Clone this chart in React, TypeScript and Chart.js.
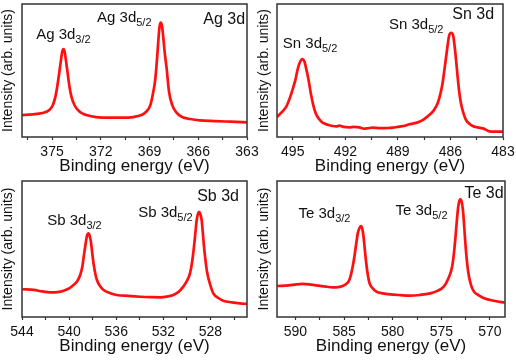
import React, { useEffect, useRef } from "react";
import { Chart, registerables } from "chart.js";
Chart.register(...registerables);

const FONT = '"Liberation Sans", Arial, Helvetica, sans-serif';

// ---------- Ag 3d ----------
const agEnergy = [376.85, 376.2, 375.6, 375.15, 374.95, 374.8, 374.68, 374.55, 374.45, 374.37, 374.3, 374.23, 374.15, 374.05, 373.93, 373.8, 373.6, 373.3, 372.9, 372.3, 371.5, 370.7, 370.0, 369.5, 369.2, 368.95, 368.8, 368.65, 368.53, 368.43, 368.37, 368.31, 368.24, 368.17, 368.07, 367.95, 367.8, 367.6, 367.35, 367.0, 366.5, 365.9, 365.0, 364.0, 363.0];
const agIntensity = [16.5, 17, 18, 20.5, 24, 30, 38, 49, 58, 64.5, 66, 64.5, 58, 49, 38, 30, 23.5, 19, 16.5, 15, 14.5, 14.5, 15, 16.5, 19, 24, 32, 43, 60, 77, 84, 86, 84, 77, 64, 52, 34, 24, 18.5, 15, 13.5, 12.5, 12, 11.5, 11];
const agTicks = [376.5, 375, 373.5, 372, 370.5, 369, 367.5, 366, 364.5, 363];
const agTickLabels = [375, 372, 369, 366, 363];

// ---------- Sn 3d ----------
const snEnergy = [495.9, 495.6, 495.37, 495.15, 495.02, 494.85, 494.73, 494.6, 494.45, 494.33, 494.26, 494.1, 493.97, 493.83, 493.69, 493.5, 493.3, 493.0, 492.73, 492.5, 492.35, 492.1, 491.78, 491.5, 491.2, 490.93, 490.7, 490.45, 490.1, 489.87, 489.5, 489.3, 488.93, 488.6, 488.35, 488.1, 487.78, 487.5, 487.21, 486.95, 486.73, 486.58, 486.45, 486.33, 486.22, 486.07, 485.95, 485.85, 485.78, 485.68, 485.59, 485.5, 485.4, 485.25, 485.11, 484.9, 484.73, 484.45, 484.16, 483.9, 483.78, 483.4, 483.0];
const snIntensity = [15, 19, 22.8, 30, 35.3, 43, 50.4, 56, 58.6, 56.5, 52.9, 43, 32.8, 24, 17.8, 13.5, 10.8, 9.2, 8.3, 8.0, 8.6, 7.6, 7.3, 7.6, 7.2, 6.2, 6.6, 7.0, 6.7, 6.6, 6.8, 7.0, 7.8, 8.5, 9.6, 10.2, 11.5, 13.5, 16.5, 20, 25.3, 32, 40.4, 52, 63, 76.5, 78.4, 76.5, 70.4, 58, 45.3, 34, 25.3, 17.5, 12.8, 9.8, 8.3, 7.2, 6.5, 5.0, 4.2, 4.0, 4.0];
const snTicks = [495, 493.5, 492, 490.5, 489, 487.5, 486, 484.5, 483];
const snTickLabels = [495, 492, 489, 486, 483];

// ---------- Sb 3d ----------
const sbEnergy = [543.97, 543.0, 542.3, 541.6, 541.0, 540.47, 540.0, 539.63, 539.3, 539.06, 538.88, 538.72, 538.58, 538.49, 538.36, 538.25, 538.15, 538.05, 537.93, 537.78, 537.64, 537.35, 537.08, 536.5, 535.95, 535.0, 533.97, 533.0, 532.28, 531.6, 531.15, 530.7, 530.31, 530.0, 529.74, 529.55, 529.4, 529.28, 529.17, 529.05, 528.97, 528.88, 528.75, 528.65, 528.55, 528.4, 528.27, 528.0, 527.76, 527.3, 526.92, 526.2, 525.5, 524.91];
const sbIntensity = [20.4, 19.9, 18.8, 18.1, 18.3, 19.3, 21, 23.5, 26.5, 30.9, 37, 46.8, 55, 59.5, 61.5, 59.5, 55.4, 48, 39.5, 32, 27.2, 22.5, 19.9, 17.5, 16.2, 15.5, 14.9, 14.6, 14.5, 15.2, 16.2, 18.5, 22.3, 26.5, 32.1, 41, 51.7, 62, 71.3, 76.2, 77.4, 76.2, 71.3, 62, 51.7, 40, 32.1, 23, 17.4, 13.8, 12.0, 10.8, 10.0, 9.6];
const sbTicks = [544, 542, 540, 538, 536, 534, 532, 530, 528, 526];
const sbTickLabels = [544, 540, 536, 532, 528];

// ---------- Te 3d ----------
const teEnergy = [591.87, 590.7, 589.9, 589.3, 588.6, 587.92, 587.0, 586.19, 585.6, 585.15, 584.75, 584.46, 584.2, 583.94, 583.75, 583.59, 583.42, 583.27, 583.13, 583.0, 582.86, 582.72, 582.55, 582.38, 582.05, 581.68, 581.0, 580.3, 579.2, 578.22, 577.2, 576.14, 575.4, 574.75, 574.3, 573.89, 573.7, 573.54, 573.4, 573.26, 573.14, 573.02, 572.9, 572.78, 572.64, 572.5, 572.32, 572.15, 571.9, 571.63, 571.1, 570.59, 569.5, 568.48];
const teIntensity = [22.8, 23.3, 24, 24.3, 24, 23.3, 22.5, 21.8, 22.0, 22.8, 24.5, 27.2, 34, 44.3, 54, 61.5, 65.5, 66.9, 65, 59.0, 49, 39.5, 30.5, 24.8, 21, 18.6, 17.4, 16.7, 16.1, 15.7, 16.2, 17.4, 19.2, 22.3, 28, 37.0, 47, 59.0, 71, 81.1, 85.5, 86.5, 84.5, 78.7, 66, 51.7, 38, 29.6, 22.5, 18.6, 15.8, 13.8, 11.8, 10.5];
const teTicks = [590, 587.5, 585, 582.5, 580, 577.5, 575, 572.5, 570];
const teTickLabels = [590, 585, 580, 575, 570];

// ---------- Text labels (anchor in data units) ----------
type Label = { text: string; sub?: string; x: number; y: number; size: number; align?: "left" | "right" };

const agLabels: Label[] = [
  { text: "Ag 3d", sub: "3/2", x: 375.98, y: 73.7, size: 15 },
  { text: "Ag 3d", sub: "5/2", x: 372.23, y: 86.5, size: 15 },
  { text: "Ag 3d", x: 363.12, y: 85.0, size: 16, align: "right" },
];
const snLabels: Label[] = [
  { text: "Sn 3d", sub: "5/2", x: 495.57, y: 66.9, size: 15 },
  { text: "Sn 3d", sub: "5/2", x: 489.51, y: 81.2, size: 15 },
  { text: "Sn 3d", x: 483.51, y: 88.7, size: 16, align: "right" },
];
const sbLabels: Label[] = [
  { text: "Sb 3d", sub: "3/2", x: 541.86, y: 67.6, size: 15 },
  { text: "Sb 3d", sub: "5/2", x: 534.14, y: 73.5, size: 15 },
  { text: "Sb 3d", x: 525.58, y: 85.3, size: 16, align: "right" },
];
const teLabels: Label[] = [
  { text: "Te 3d", sub: "3/2", x: 589.69, y: 72.8, size: 15 },
  { text: "Te 3d", sub: "5/2", x: 579.71, y: 75.0, size: 15 },
  { text: "Te 3d", x: 568.59, y: 87.5, size: 16, align: "right" },
];

const xTitle = "Binding energy (eV)";
const yTitle = "Intensity (arb. units)";

type PanelCfg = {
  energy: number[];
  intensity: number[];
  ticks: number[];
  tickLabels: number[];
  labels: Label[];
  xMin: number;
  xMax: number;
  layout: { left: number; top: number; width: number; height: number; padTop: number; padRight: number; yWidth: number; xHeight: number; titlePad: number };
};

const panels: PanelCfg[] = [
  { energy: agEnergy, intensity: agIntensity, ticks: agTicks, tickLabels: agTickLabels, labels: agLabels, xMin: 363, xMax: 376.85,
    layout: { left: 0, top: 0, width: 264, height: 180, padTop: 4, padRight: 17, yWidth: 22, xHeight: 43, titlePad: 3 } },
  { energy: snEnergy, intensity: snIntensity, ticks: snTicks, tickLabels: snTickLabels, labels: snLabels, xMin: 483, xMax: 495.9,
    layout: { left: 256, top: 0, width: 260, height: 180, padTop: 4, padRight: 13, yWidth: 21, xHeight: 43, titlePad: 3 } },
  { energy: sbEnergy, intensity: sbIntensity, ticks: sbTicks, tickLabels: sbTickLabels, labels: sbLabels, xMin: 524.9, xMax: 544,
    layout: { left: 0, top: 180, width: 264, height: 180, padTop: 1, padRight: 17, yWidth: 22, xHeight: 43, titlePad: 3 } },
  { energy: teEnergy, intensity: teIntensity, ticks: teTicks, tickLabels: teTickLabels, labels: teLabels, xMin: 568.45, xMax: 591.9,
    layout: { left: 256, top: 180, width: 260, height: 180, padTop: 1, padRight: 11, yWidth: 21, xHeight: 43, titlePad: 3 } },
];

function Panel({ cfg }: { cfg: PanelCfg }) {
  const ref = useRef<HTMLCanvasElement | null>(null);
  useEffect(() => {
    if (!ref.current) return;
    const L = cfg.layout;
    const labelPlugin = {
      id: "peakLabels",
      afterDraw(chart: any) {
        const { ctx, chartArea: a } = chart;
        const xs = chart.scales.x;
        const ys = chart.scales.y;
        ctx.save();
        ctx.strokeStyle = "#333";
        ctx.lineWidth = 1.5;
        ctx.strokeRect(a.left, a.top, a.right - a.left, a.bottom - a.top);
        ctx.fillStyle = "#111";
        ctx.textBaseline = "alphabetic";
        ctx.textAlign = "left";
        for (const l of cfg.labels) {
          const px = xs.getPixelForValue(l.x);
          const py = ys.getPixelForValue(l.y);
          ctx.font = `${l.size}px ${FONT}`;
          const w = ctx.measureText(l.text).width;
          let sw = 0;
          if (l.sub) {
            ctx.font = `11px ${FONT}`;
            sw = ctx.measureText(l.sub).width;
          }
          const start = l.align === "right" ? px - w - sw : px;
          ctx.font = `${l.size}px ${FONT}`;
          ctx.fillText(l.text, start, py);
          if (l.sub) {
            ctx.font = `11px ${FONT}`;
            ctx.fillText(l.sub, start + w, py + 4);
          }
        }
        ctx.restore();
      },
    };
    const chart = new Chart(ref.current, {
      type: "line",
      data: {
        datasets: [
          {
            data: cfg.energy.map((e, i) => ({ x: e, y: cfg.intensity[i] })),
            borderColor: "#ff1010",
            borderWidth: 2.7,
            pointRadius: 0,
            fill: false,
            cubicInterpolationMode: "monotone",
          },
        ],
      },
      options: {
        responsive: false,
        animation: false,
        events: [],
        layout: { padding: { top: L.padTop, right: L.padRight, left: 0, bottom: 0 } },
        plugins: { legend: { display: false }, tooltip: { enabled: false } },
        scales: {
          x: {
            type: "linear",
            reverse: true,
            min: cfg.xMin,
            max: cfg.xMax,
            border: { display: false },
            grid: { display: true, drawOnChartArea: false, drawTicks: true, tickLength: 3, tickWidth: 1.2, tickColor: "#333" },
            afterBuildTicks: (s: any) => {
              s.ticks = cfg.ticks.map((v) => ({ value: v }));
            },
            afterFit: (s: any) => {
              s.height = L.xHeight;
              s.paddingLeft = 0;
              s.paddingRight = 0;
            },
            ticks: {
              autoSkip: false,
              maxRotation: 0,
              padding: 4,
              color: "#111",
              font: { family: FONT, size: 14 },
              callback: (v: any) => (cfg.tickLabels.includes(Number(v)) ? String(v) : ""),
            },
            title: { display: true, text: xTitle, color: "#111", font: { family: FONT, size: 17 }, padding: { top: 0, bottom: L.titlePad } },
          },
          y: {
            type: "linear",
            min: 0,
            max: 100,
            border: { display: false },
            grid: { display: false },
            ticks: { display: false },
            afterFit: (s: any) => {
              s.width = L.yWidth;
            },
            title: { display: true, text: yTitle, color: "#111", font: { family: FONT, size: 14 }, padding: { top: 0, bottom: 0 } },
          },
        },
      },
      plugins: [labelPlugin],
    } as any);
    return () => chart.destroy();
  }, [cfg]);
  const L = cfg.layout;
  return (
    <canvas
      ref={ref}
      width={L.width}
      height={L.height}
      style={{ position: "absolute", left: L.left, top: L.top, width: L.width, height: L.height }}
    />
  );
}

export default function App() {
  return (
    <div style={{ position: "fixed", left: 0, top: 0, width: 516, height: 360, background: "#fff", overflow: "hidden" }}>
      {panels.map((p, i) => (
        <Panel key={i} cfg={p} />
      ))}
    </div>
  );
}
